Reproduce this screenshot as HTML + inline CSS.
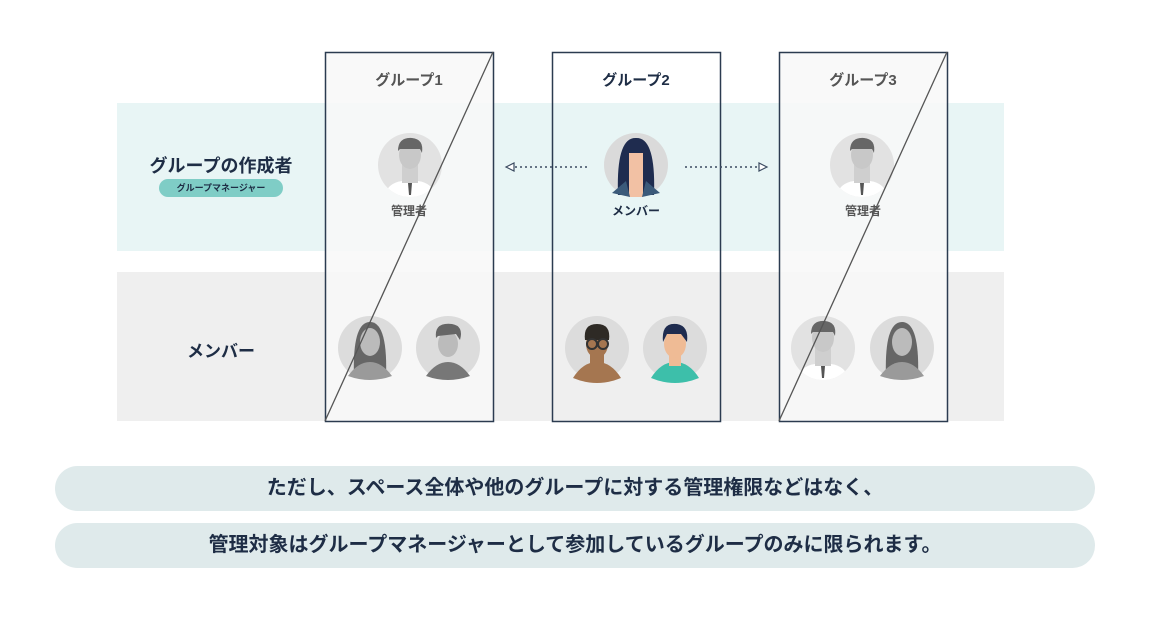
<!DOCTYPE html>
<html><head><meta charset="utf-8"><style>
body{margin:0;width:1171px;height:625px;background:#fff;position:relative;overflow:hidden;font-family:"Liberation Sans","Noto Sans CJK JP",sans-serif;font-weight:bold;color:#1e2d45}
.a{position:absolute}
.pill{position:absolute;left:55px;width:1040px;height:45px;border-radius:23px;background:#dfeaeb;text-align:center;line-height:45px;font-size:20px;color:#1e2d45}
</style></head><body>
<div class="a" style="left:117px;top:103px;width:887px;height:148px;background:#e8f5f5"></div>
<div class="a" style="left:117px;top:272px;width:887px;height:149px;background:#efefef"></div>
<div class="a" style="left:325px;top:52px;width:168px;height:369px;background:rgba(248,248,248,0.85)"></div>
<div class="a" style="left:779px;top:52px;width:168px;height:369px;background:rgba(248,248,248,0.85)"></div>
<svg class="a" style="left:0;top:0" width="1171" height="625">
<defs>
<g id="man"><circle r="32" fill="#e2e2e2"/><clipPath id="c1"><circle r="32"/></clipPath>
<g clip-path="url(#c1)"><path d="M-26 34 Q-24 18 -8 16 L8 16 Q24 18 26 34Z" fill="#fff"/><rect x="-8" y="-14" width="16" height="32" fill="#cfcfcf"/><ellipse cx="0" cy="-10" rx="11" ry="14" fill="#c8c8c8"/><path d="M-12 -14 Q-12 -28 2 -27 Q14 -26 12 -12 L10 -16 L-10 -16Z" fill="#666"/><path d="M-2 18 L2 18 L1 30 L-1 30Z" fill="#555"/></g></g>
<g id="gw"><circle r="32" fill="#dcdcdc"/><path d="M-16 30 Q-18 -26 0 -26 Q18 -26 16 30Z" fill="#666" clip-path="url(#c1)"/><ellipse cx="0" cy="-6" rx="10" ry="14" fill="#bbb"/><path d="M-22 28 Q-12 14 0 14 Q12 14 22 28 Q0 36 -22 28Z" fill="#9a9a9a"/></g>
</defs>
<use href="#man" x="410" y="165"/>
<use href="#man" x="862" y="165"/>
<g transform="translate(636,165)"><circle r="32" fill="#dadada"/><path d="M-18 30 Q-20 -28 0 -27 Q20 -28 18 30Z" fill="#1f2c4f"/><rect x="-7" y="-12" width="14" height="44" fill="#f2c1a4"/><path d="M-24 28 L-10 16 L-6 32Z M24 28 L10 16 L6 32Z" fill="#3b5a7a"/></g>
<use href="#gw" x="370" y="348"/>
<g transform="translate(448,348)"><circle r="32" fill="#dcdcdc"/><ellipse cx="0" cy="-4" rx="10" ry="13" fill="#bbb"/><path d="M-12 -10 Q-14 -26 4 -24 Q16 -22 12 -8 L8 -14 L-10 -12Z" fill="#666"/><path d="M-22 28 Q-12 14 0 14 Q12 14 22 28 Q0 36 -22 28Z" fill="#777"/></g>
<g transform="translate(597,348)"><circle r="32" fill="#dcdcdc"/><path d="M-24 30 Q-14 14 0 14 Q14 14 24 30 Q0 40 -24 30Z" fill="#a57650"/><rect x="-7" y="4" width="14" height="14" fill="#a57650"/><ellipse cx="0" cy="-4" rx="11" ry="14" fill="#a57650"/><path d="M-12 -8 Q-14 -24 0 -24 Q14 -24 12 -8Z" fill="#2e2a25"/><circle cx="-5" cy="-4" r="5" fill="none" stroke="#333" stroke-width="2"/><circle cx="6" cy="-4" r="5" fill="none" stroke="#333" stroke-width="2"/></g>
<g transform="translate(675,348)"><circle r="32" fill="#dcdcdc"/><path d="M-24 30 Q-14 14 0 14 Q14 14 24 30 Q0 40 -24 30Z" fill="#3dbfaa"/><rect x="-6" y="4" width="12" height="14" fill="#efbb95"/><ellipse cx="0" cy="-4" rx="11" ry="14" fill="#efbb95"/><path d="M-12 -6 Q-14 -26 2 -24 Q14 -22 12 -6 L6 -14 L-8 -14Z" fill="#1f2c4f"/></g>
<use href="#man" x="823" y="348"/>
<use href="#gw" x="902" y="348"/>
<rect x="325.5" y="52.5" width="168" height="369" fill="none" stroke="#2b3b50" stroke-width="1.5"/>
<rect x="552.5" y="52.5" width="168" height="369" fill="none" stroke="#2b3b50" stroke-width="1.5"/>
<rect x="779.5" y="52.5" width="168" height="369" fill="none" stroke="#2b3b50" stroke-width="1.5"/>
<line x1="325" y1="421" x2="493" y2="52" stroke="#555" stroke-width="1.3"/>
<line x1="779" y1="421" x2="947" y2="52" stroke="#555" stroke-width="1.3"/>
<line x1="515" y1="167" x2="587" y2="167" stroke="#3a4a60" stroke-width="1.5" stroke-dasharray="2 3"/>
<path d="M506 167 L514 163 L514 171Z" fill="#fff" stroke="#3a4a60" stroke-width="1.2"/>
<line x1="685" y1="167" x2="758" y2="167" stroke="#3a4a60" stroke-width="1.5" stroke-dasharray="2 3"/>
<path d="M767 167 L759 163 L759 171Z" fill="#fff" stroke="#3a4a60" stroke-width="1.2"/>
</svg>
<div class="a" style="left:325px;top:69px;width:168px;text-align:center;font-size:15px;color:#555">グループ1</div>
<div class="a" style="left:552px;top:69px;width:168px;text-align:center;font-size:15px">グループ2</div>
<div class="a" style="left:779px;top:69px;width:168px;text-align:center;font-size:15px;color:#555">グループ3</div>
<div class="a" style="left:325px;top:202px;width:168px;text-align:center;font-size:12px;color:#555">管理者</div>
<div class="a" style="left:552px;top:202px;width:168px;text-align:center;font-size:12px">メンバー</div>
<div class="a" style="left:779px;top:202px;width:168px;text-align:center;font-size:12px;color:#555">管理者</div>
<div class="a" style="left:117px;top:152px;width:208px;text-align:center;font-size:18px">グループの作成者</div>
<div class="a" style="left:159px;top:179px;width:124px;height:18px;border-radius:9px;background:#7fcdc6;text-align:center;line-height:18px;font-size:9px">グループマネージャー</div>
<div class="a" style="left:117px;top:337px;width:208px;text-align:center;font-size:17px">メンバー</div>
<div class="pill" style="top:466px">ただし、スペース全体や他のグループに対する管理権限などはなく、</div>
<div class="pill" style="top:523px">管理対象はグループマネージャーとして参加しているグループのみに限られます。</div>
</body></html>
